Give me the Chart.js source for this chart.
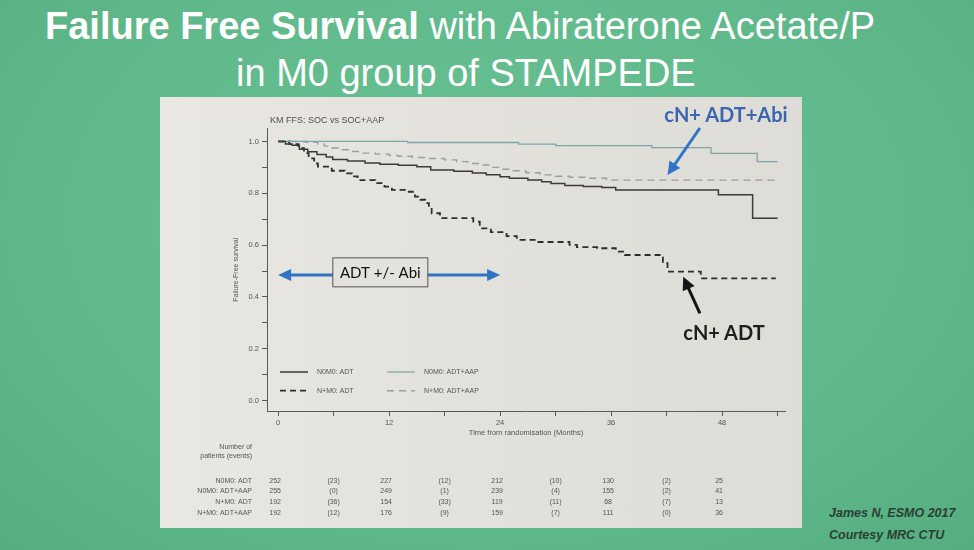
<!DOCTYPE html>
<html><head><meta charset="utf-8">
<script src="https://cdn.jsdelivr.net/npm/chart.js@4.4.0/dist/chart.umd.min.js"></script>
<style>
html,body{margin:0;padding:0;}
body{width:974px;height:550px;position:relative;overflow:hidden;font-family:"Liberation Sans",Arial,sans-serif;
 background:radial-gradient(ellipse at 50% 40%, #68c093 0%, #60b98b 60%, #55ad80 100%);}
.t{position:absolute;left:0;color:#fff;font-size:38px;white-space:nowrap;line-height:40px;}
#t1{top:6px;left:45px;}
#t2{top:53px;left:236px;}
#panel{position:absolute;left:160px;top:97px;width:642px;height:431px;
 background:linear-gradient(90deg,#e9e7e2 0%,#e3e1db 50%,#dedcd6 100%);}
#wrap{position:absolute;left:0;top:0;width:642px;height:431px;}
.ann{position:absolute;font-family:Lato,"Open Sans",sans-serif;font-weight:bold;font-size:20px;white-space:nowrap;transform:translate(-50%,-50%);}
#a1{left:566px;top:17px;color:#3a64b0;}
#a2{left:564px;top:235px;color:#1e1e1e;}
#credit{position:absolute;left:829px;top:502px;color:#2c3f33;font:italic bold 12.5px "Liberation Sans",Arial,sans-serif;line-height:22px;}
</style></head>
<body>
<div class="t" id="t1"><b>Failure Free Survival</b> with Abiraterone Acetate/P</div>
<div class="t" id="t2">in M0 group of STAMPEDE</div>
<div id="panel">
 <div id="wrap"><canvas id="c" width="642" height="431"></canvas></div>
 <div class="ann" id="a1">cN+ ADT+Abi</div>
 <div class="ann" id="a2">cN+ ADT</div>
</div>
<div id="credit">James N, ESMO 2017<br>Courtesy MRC CTU</div>
<script>
// ---- data ----
const chartTitle = 'KM FFS: SOC vs SOC+AAP';
const seriesNames = ['N0M0: ADT', 'N0M0: ADT+AAP', 'N+M0: ADT', 'N+M0: ADT+AAP'];

const n0m0AdtMonths = [0,0.8,1.5,2.3,3.2,4.2,5.2,5.9,7.5,9.4,11,13,15,16.5,19,21,22.5,24,25,27,28.5,29.5,31,33,35,36.5,47.6,51.3,54];
const n0m0AdtSurv   = [1,0.99,0.985,0.97,0.96,0.95,0.94,0.93,0.925,0.917,0.912,0.908,0.902,0.89,0.885,0.878,0.872,0.864,0.858,0.851,0.845,0.838,0.83,0.826,0.822,0.813,0.794,0.704,0.704];

const n0m0AapMonths = [0,14,26,30,40.4,46.8,51.8,54];
const n0m0AapSurv   = [1,0.996,0.99,0.984,0.976,0.954,0.922,0.922];

const npm0AdtMonths = [0,1.2,2.2,2.8,3.3,3.9,4.3,5.8,7.2,8.0,8.6,10.5,11.5,12.3,13.7,14.8,15.4,15.9,16.3,16.6,17.5,21.1,21.8,23,24.7,25.8,28,31.5,32.3,34.5,36.5,37.5,41.6,42.1,45.7,53.8];
const npm0AdtSurv   = [1,0.99,0.974,0.955,0.935,0.915,0.903,0.887,0.877,0.865,0.851,0.839,0.826,0.813,0.806,0.787,0.775,0.762,0.745,0.723,0.704,0.691,0.665,0.65,0.635,0.62,0.612,0.601,0.592,0.588,0.575,0.562,0.53,0.498,0.472,0.472];

const npm0AapMonths = [0,3,4.3,5,5.8,6.8,7.9,9,10.5,12,13,14.5,15.9,18,19.3,20.5,21.8,23,24.3,25.4,26.8,28.3,30,31.5,33.5,35.5,53.8];
const npm0AapSurv   = [1,0.997,0.99,0.982,0.975,0.968,0.961,0.955,0.951,0.946,0.943,0.938,0.934,0.929,0.922,0.915,0.909,0.9,0.893,0.887,0.879,0.871,0.866,0.862,0.858,0.851,0.851];

const xTickValues = [0,6,12,18,24,30,36,42,48,54];
const xTickLabels = ['0','','12','','24','','36','','48',''];
const yTickValues = [0,0.1,0.2,0.3,0.4,0.5,0.6,0.7,0.8,0.9,1.0];
const yTickLabels = ['0.0','','0.2','','0.4','','0.6','','0.8','','1.0'];

// number at risk (at 0,12,24,36,48) and events (in 0-12,12-24,24-36,36-48)
const riskMonths   = [0,12,24,36,48];
const eventMonths  = [6,18,30,42];
const riskN0M0Adt  = [252,227,212,130,25];
const eventsN0M0Adt= [23,12,10,2];
const riskN0M0Aap  = [255,249,239,155,41];
const eventsN0M0Aap= [0,1,4,2];
const riskNpM0Adt  = [192,154,119,68,13];
const eventsNpM0Adt= [36,33,11,7];
const riskNpM0Aap  = [192,176,159,111,36];
const eventsNpM0Aap= [12,9,7,0];

// annotation anchors (data space)
const spanArrowMonths = [0,24];
const spanArrowSurv = 0.485;
const spanLabel = 'ADT +/- Abi';

// ---- build ----
const pts = (m, s) => m.map((v, i) => ({x: v, y: s[i]}));
const styles = [
  {color:'#3b3b3b', dash:[], w:1.5},
  {color:'#7ea6a9', dash:[], w:1.3},
  {color:'#2e2e2e', dash:[6,4], w:1.8},
  {color:'#95a0a0', dash:[7,5], w:1.4}
];
const series = [
  pts(n0m0AdtMonths, n0m0AdtSurv),
  pts(n0m0AapMonths, n0m0AapSurv),
  pts(npm0AdtMonths, npm0AdtSurv),
  pts(npm0AapMonths, npm0AapSurv)
];
const riskRows = [
  [seriesNames[0], riskN0M0Adt, eventsN0M0Adt],
  [seriesNames[1], riskN0M0Aap, eventsN0M0Aap],
  [seriesNames[2], riskNpM0Adt, eventsNpM0Adt],
  [seriesNames[3], riskNpM0Aap, eventsNpM0Aap]
];

function arrow(ctx, x1, y1, x2, y2, color, w, hl, hw, both) {
  const ang = Math.atan2(y2 - y1, x2 - x1);
  const head = (x, y, a) => {
    ctx.beginPath();
    ctx.moveTo(x, y);
    ctx.lineTo(x - hl*Math.cos(a) + hw*Math.sin(a), y - hl*Math.sin(a) - hw*Math.cos(a));
    ctx.lineTo(x - hl*Math.cos(a) - hw*Math.sin(a), y - hl*Math.sin(a) + hw*Math.cos(a));
    ctx.closePath(); ctx.fill();
  };
  ctx.strokeStyle = color; ctx.fillStyle = color; ctx.lineWidth = w; ctx.setLineDash([]);
  const sx = both ? x1 + (hl-2)*Math.cos(ang) : x1, sy = both ? y1 + (hl-2)*Math.sin(ang) : y1;
  ctx.beginPath();
  ctx.moveTo(sx, sy);
  ctx.lineTo(x2 - (hl-2)*Math.cos(ang), y2 - (hl-2)*Math.sin(ang));
  ctx.stroke();
  head(x2, y2, ang);
  if (both) head(x1, y1, ang + Math.PI);
}

const overlay = {
  id: 'overlay',
  afterDraw(chart) {
    const {ctx, chartArea: a, scales: {x, y}} = chart;
    ctx.save();
    const F = '"Liberation Sans", Arial, sans-serif';
    // chart title
    ctx.fillStyle = '#505050'; ctx.font = '9px ' + F;
    ctx.textAlign = 'left'; ctx.textBaseline = 'middle';
    ctx.fillText(chartTitle, a.left + 3, a.top - 7.5);

    // legend (inside plot, bottom-left)
    const lg = [[0, 0], [1, 0], [2, 1], [3, 1]];
    lg.forEach(([k, row], idx) => {
      const col = idx === 1 || idx === 3 ? 1 : 0;
      const lx = a.left + 13 + col * 107;
      const ly = a.bottom - 39 + row * 18.7;
      const s = styles[k];
      ctx.strokeStyle = s.color; ctx.lineWidth = s.w; ctx.setLineDash(s.dash);
      ctx.beginPath(); ctx.moveTo(lx, ly); ctx.lineTo(lx + 28, ly); ctx.stroke();
      ctx.setLineDash([]);
      ctx.fillStyle = '#555'; ctx.font = '7px ' + F; ctx.textAlign = 'left';
      ctx.fillText(seriesNames[k], lx + 37, ly);
    });

    // span arrow + box
    const ay = y.getPixelForValue(spanArrowSurv);
    arrow(ctx, x.getPixelForValue(spanArrowMonths[0]), ay, x.getPixelForValue(spanArrowMonths[1]), ay, '#2f74c6', 3, 13, 6, true);
    const bx = x.getPixelForValue(11.05), by = y.getPixelForValue(0.495);
    ctx.fillStyle = '#e4e2dc'; ctx.fillRect(bx - 47.5, by - 14.5, 95, 29);
    ctx.strokeStyle = '#555'; ctx.lineWidth = 1; ctx.strokeRect(bx - 47.5, by - 14.5, 95, 29);
    ctx.fillStyle = '#111'; ctx.font = '15px Lato, "Open Sans", sans-serif'; ctx.textAlign = 'center';
    ctx.fillText(spanLabel, bx, by + 1);

    // callout arrows
    arrow(ctx, x.getPixelForValue(45.6), y.getPixelForValue(1.052), x.getPixelForValue(42.1), y.getPixelForValue(0.871), '#2f74c6', 3, 13, 6.5, false);
    arrow(ctx, x.getPixelForValue(45.6), y.getPixelForValue(0.337), x.getPixelForValue(43.8), y.getPixelForValue(0.478), '#151515', 3, 13, 6.5, false);

    // number at risk table
    ctx.fillStyle = '#555'; ctx.font = '7px ' + F; ctx.textAlign = 'right';
    const lx = a.left - 15;
    ctx.fillText('Number of', lx, a.bottom + 36);
    ctx.fillText('patients (events)', lx, a.bottom + 45);
    const rowY = [69.7, 80.3, 91.3, 102];
    riskRows.forEach(([name, risk, ev], r) => {
      const yy = a.bottom + rowY[r];
      ctx.textAlign = 'right'; ctx.fillText(name, lx, yy);
      ctx.textAlign = 'center';
      risk.forEach((v, i) => ctx.fillText(String(v), x.getPixelForValue(riskMonths[i]) - 3, yy));
      ev.forEach((v, i) => ctx.fillText('(' + v + ')', x.getPixelForValue(eventMonths[i]), yy));
    });
    ctx.restore();
  }
};

const axisColor = '#5a5a5a';
new Chart(document.getElementById('c'), {
  type: 'line',
  data: {
    datasets: series.map((d, i) => ({
      label: seriesNames[i], data: d,
      borderColor: styles[i].color, borderWidth: styles[i].w, borderDash: styles[i].dash,
      stepped: 'before', pointRadius: 0, fill: false, tension: 0
    }))
  },
  options: {
    responsive: false, animation: false, events: [],
    layout: {padding: {left: 72, right: 17, top: 31.5, bottom: 87}},
    plugins: {legend: {display: false}, tooltip: {enabled: false}, title: {display: false}},
    scales: {
      x: {
        type: 'linear', min: -1.2, max: 54.8,
        afterBuildTicks: s => { s.ticks = xTickValues.map(v => ({value: v})); },
        afterFit: s => { s.height = 30; },
        ticks: {autoSkip: false, maxRotation: 0, padding: 2, color: '#555',
          font: {family: '"Liberation Sans", Arial', size: 7.5},
          callback: (v) => xTickLabels[xTickValues.indexOf(v)] ?? ''},
        grid: {drawOnChartArea: false, drawTicks: true, tickLength: 5, color: axisColor},
        border: {display: true, color: axisColor, width: 1},
        title: {display: true, text: 'Time from randomisation (Months)', color: '#555',
          font: {family: '"Liberation Sans", Arial', size: 7.5}, padding: {top: 0, bottom: 4}}
      },
      y: {
        type: 'linear', min: -0.04, max: 1.05,
        afterBuildTicks: s => { s.ticks = yTickValues.map(v => ({value: v})); },
        afterFit: s => { s.width = 35; },
        ticks: {autoSkip: false, padding: 3, color: '#555',
          font: {family: '"Liberation Sans", Arial', size: 7.5},
          callback: (v) => { const i = yTickValues.findIndex(t => Math.abs(t - v) < 1e-6); return i >= 0 ? yTickLabels[i] : ''; }},
        grid: {drawOnChartArea: false, drawTicks: true, tickLength: 5, color: axisColor},
        border: {display: true, color: axisColor, width: 1},
        title: {display: true, text: 'Failure-Free survival', color: '#555',
          font: {family: '"Liberation Sans", Arial', size: 7}, padding: {top: 0, bottom: 4}}
      }
    }
  },
  plugins: [overlay]
});
</script>
</body></html>
